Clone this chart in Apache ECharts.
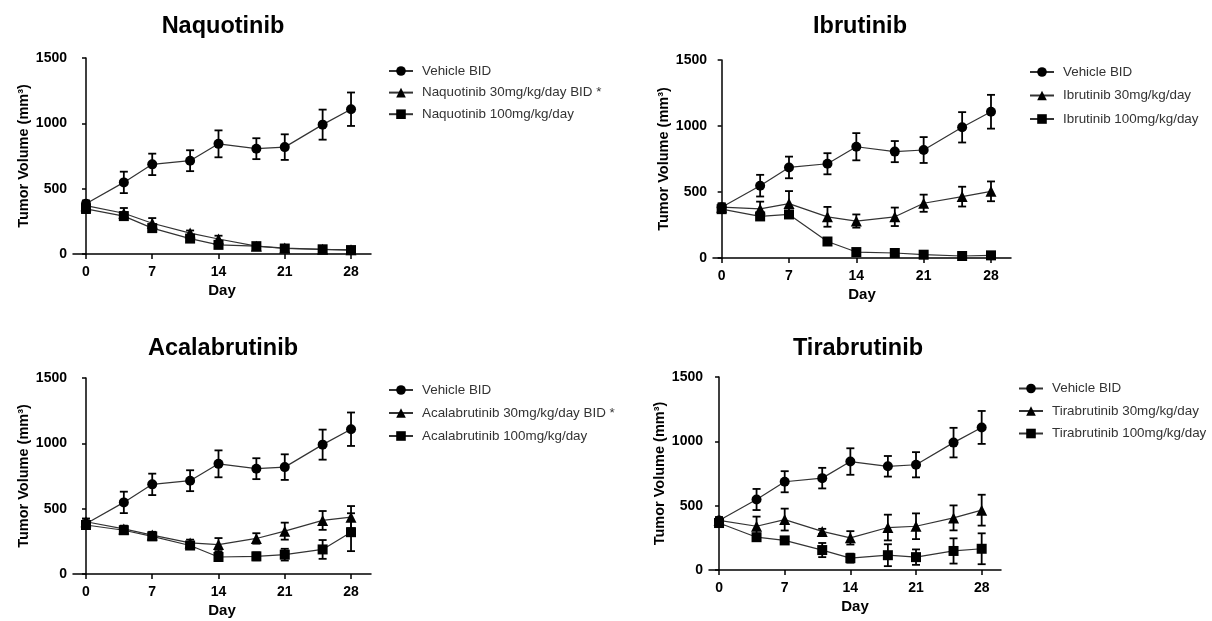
<!DOCTYPE html>
<html>
<head>
<meta charset="utf-8">
<script src="https://cdn.jsdelivr.net/npm/echarts@6/dist/echarts.min.js"></script>
<style>html,body{margin:0;padding:0;background:#fff}#c{width:1212px;height:621px}</style>
</head>
<body>
<div id="c"></div>
<script>
// ---- data ----
const days = [0, 4, 7, 11, 14, 18, 21, 25, 28];
const dayTicks = [0, 7, 14, 21, 28];
const panelTitles = ['Naquotinib', 'Ibrutinib', 'Acalabrutinib', 'Tirabrutinib'];

const vehicleName = 'Vehicle BID';
const vehicleMean = [385, 548, 686, 714, 843, 806, 818, 990, 1108];
const vehicleErr  = [25, 82, 82, 80, 103, 80, 98, 115, 128];

const naq30Name = 'Naquotinib 30mg/kg/day BID *';
const naq30Mean = [370, 312, 235, 160, 115, 60, 45, 36, 32];
const naq30Err  = [30, 40, 40, 20, 25, 20, 15, 10, 10];
const naq100Name = 'Naquotinib 100mg/kg/day';
const naq100Mean = [345, 290, 198, 118, 70, 60, 42, 36, 30];
const naq100Err  = [30, 30, 30, 25, 15, 20, 15, 10, 10];

const ibr30Name = 'Ibrutinib 30mg/kg/day';
const ibr30Mean = [385, 372, 412, 312, 280, 312, 415, 465, 505];
const ibr30Err  = [30, 55, 95, 75, 50, 70, 65, 75, 75];
const ibr100Name = 'Ibrutinib 100mg/kg/day';
const ibr100Mean = [370, 315, 330, 125, 45, 38, 25, 15, 20];
const ibr100Err  = [25, 25, 20, 15, 10, 10, 10, 8, 8];

const acal30Name = 'Acalabrutinib 30mg/kg/day BID *';
const acal30Mean = [400, 345, 298, 238, 225, 272, 328, 410, 435];
const acal30Err  = [25, 25, 25, 25, 50, 40, 65, 72, 85];
const acal100Name = 'Acalabrutinib 100mg/kg/day';
const acal100Mean = [375, 335, 288, 218, 130, 135, 148, 188, 320];
const acal100Err  = [25, 25, 20, 25, 20, 30, 45, 72, 145];

const tira30Name = 'Tirabrutinib 30mg/kg/day';
const tira30Mean = [385, 340, 392, 300, 250, 330, 340, 405, 465];
const tira30Err  = [25, 75, 85, 20, 52, 100, 100, 97, 120];
const tira100Name = 'Tirabrutinib 100mg/kg/day';
const tira100Mean = [365, 255, 230, 155, 92, 115, 100, 148, 165];
const tira100Err  = [25, 25, 15, 55, 35, 85, 60, 98, 120];

const yTicks = [0, 500, 1000, 1500];

// ---- layout ----
const FONT = '"Liberation Sans", Arial, sans-serif';
const panels = [
  {title: panelTitles[0], tx: 223, ty: 15, grid: {left: 73, top: 58, width: 298, height: 196}, xmin: -1.37, xmax: 30.11,
   legend: {left: 388, top: 63.5, gap: 6.6},
   series: [[vehicleName, vehicleMean, vehicleErr, 'circle'], [naq30Name, naq30Mean, naq30Err, 'triangle'], [naq100Name, naq100Mean, naq100Err, 'rect']]},
  {title: panelTitles[1], tx: 860, ty: 15, grid: {left: 713, top: 60, width: 298, height: 198}, xmin: -0.9, xmax: 30.08,
   legend: {left: 1029, top: 64.5, gap: 8.5},
   series: [[vehicleName, vehicleMean, vehicleErr, 'circle'], [ibr30Name, ibr30Mean, ibr30Err, 'triangle'], [ibr100Name, ibr100Mean, ibr100Err, 'rect']]},
  {title: panelTitles[2], tx: 223, ty: 337, grid: {left: 73, top: 378, width: 298, height: 196}, xmin: -1.37, xmax: 30.11,
   legend: {left: 388, top: 382.5, gap: 8},
   series: [[vehicleName, vehicleMean, vehicleErr, 'circle'], [acal30Name, acal30Mean, acal30Err, 'triangle'], [acal100Name, acal100Mean, acal100Err, 'rect']]},
  {title: panelTitles[3], tx: 858, ty: 337, grid: {left: 709, top: 377, width: 292, height: 193}, xmin: -1.07, xmax: 30.06,
   legend: {left: 1018, top: 381, gap: 7.5},
   series: [[vehicleName, vehicleMean, vehicleErr, 'circle'], [tira30Name, tira30Mean, tira30Err, 'triangle'], [tira100Name, tira100Mean, tira100Err, 'rect']]}
];

function errRender(params, api) {
  const x = api.value(0), lo = api.value(1), hi = api.value(2);
  const a = api.coord([x, hi]), b = api.coord([x, lo]);
  const w = 4;
  const st = {stroke: '#000', lineWidth: 1.8};
  return {type: 'group', children: [
    {type: 'line', shape: {x1: a[0], y1: a[1], x2: b[0], y2: b[1]}, style: st},
    {type: 'line', shape: {x1: a[0] - w, y1: a[1], x2: a[0] + w, y2: a[1]}, style: st},
    {type: 'line', shape: {x1: b[0] - w, y1: b[1], x2: b[0] + w, y2: b[1]}, style: st}
  ]};
}

const option = {
  animation: false,
  backgroundColor: '#fff',
  title: [], grid: [], xAxis: [], yAxis: [], legend: [], series: []
};

panels.forEach((p, i) => {
  option.title.push({text: p.title, left: p.tx, top: p.ty, textAlign: 'center', padding: 0,
    textStyle: {fontFamily: FONT, fontWeight: 'bold', fontSize: 23.5, color: '#000'}});
  option.grid.push(Object.assign({containLabel: false}, p.grid));
  option.xAxis.push({type: 'value', gridIndex: i, min: p.xmin, max: p.xmax,
    name: 'Day', nameLocation: 'middle', nameGap: 29,
    nameTextStyle: {fontFamily: FONT, fontWeight: 'bold', fontSize: 15, color: '#000'},
    axisLine: {show: true, onZero: false, lineStyle: {color: '#000', width: 1.5}},
    axisTick: {show: true, length: 5, customValues: dayTicks, lineStyle: {color: '#000', width: 1.5}},
    axisLabel: {customValues: dayTicks, margin: 11, fontFamily: FONT, fontWeight: 'bold', fontSize: 14, color: '#000'},
    splitLine: {show: false}});
  option.yAxis.push({type: 'value', gridIndex: i, min: 0, max: 1500, interval: 500,
    name: 'Tumor Volume (mm³)', nameLocation: 'middle', nameGap: 40,
    nameTextStyle: {fontFamily: FONT, fontWeight: 'bold', fontSize: 14.5, color: '#000'},
    axisLine: {show: true, lineStyle: {color: '#000', width: 1.5}},
    axisTick: {show: true, length: 4, lineStyle: {color: '#000', width: 1.5}},
    axisLabel: {margin: 6, formatter: v => String(v), fontFamily: FONT, fontWeight: 'bold', fontSize: 14, color: '#000'},
    splitLine: {show: false}});
  option.legend.push({orient: 'vertical', left: p.legend.left, top: p.legend.top, padding: 0,
    itemGap: p.legend.gap, itemWidth: 24, itemHeight: 12, selectedMode: false,
    data: p.series.map(s => s[0]),
    textStyle: {fontFamily: FONT, fontSize: 13.4, color: '#333', lineHeight: 15, padding: [0, 0, 0, 4]}});
  p.series.forEach(s => {
    const [name, mean, err, sym] = s;
    option.series.push({type: 'line', name: name, xAxisIndex: i, yAxisIndex: i,
      data: days.map((d, k) => [d, mean[k]]),
      symbol: sym, symbolSize: sym === 'triangle' ? 11 : 10, showSymbol: true,
      itemStyle: {color: '#000'}, lineStyle: {color: '#333', width: 1.2}, z: 3});
    option.series.push({type: 'custom', xAxisIndex: i, yAxisIndex: i,
      data: days.map((d, k) => [d, mean[k] - err[k], mean[k] + err[k]]),
      encode: {x: 0, y: [1, 2]}, renderItem: errRender, z: 4, silent: true});
  });
});

const chart = echarts.init(document.getElementById('c'), null, {renderer: 'canvas'});
chart.setOption(option);
</script>
</body>
</html>
